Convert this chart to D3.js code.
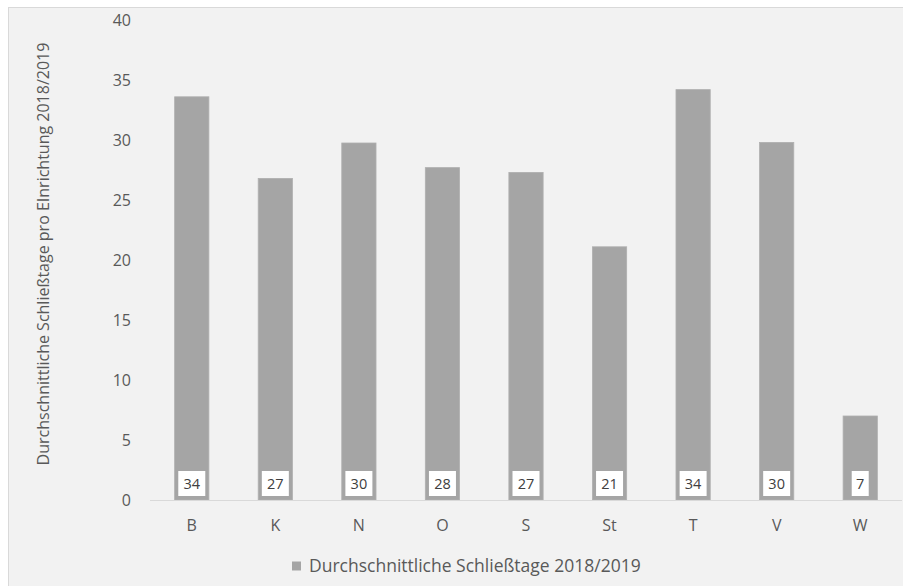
<!DOCTYPE html>
<html><head><meta charset="utf-8">
<script src="https://cdn.jsdelivr.net/npm/d3@7/dist/d3.min.js"></script>
<style>body{margin:0;background:#fff}svg{display:block}text{font-family:"Open Sans",sans-serif}</style>
</head><body><svg id="c" width="903" height="586"></svg>
<script>
const categories = ["B","K","N","O","S","St","T","V","W"];
const values = [33.6, 26.8, 29.75, 27.7, 27.3, 21.1, 34.2, 29.8, 7.0];
const labels = ["34","27","30","28","27","21","34","30","7"];
const yTicks = [0,5,10,15,20,25,30,35,40];
const yTitle = "Durchschnittliche Schließtage pro EInrichtung 2018/2019";
const legendText = "Durchschnittliche Schließtage 2018/2019";

const svg = d3.select("#c");
svg.append("rect").attr("x",8.5).attr("y",7.5).attr("width",900).attr("height",590)
  .attr("fill","#f2f2f2").attr("stroke","#d9d9d9");
const L=150,R=902,T=20,B=500;
const x = d3.scaleBand().domain(categories).range([L,R]).paddingInner(0.59).paddingOuter(0.295);
const y = d3.scaleLinear().domain([0,40]).range([B,T]);
const g = svg.append("g");
g.selectAll("rect.bar").data(values).join("rect").attr("class","bar")
  .attr("x",(d,i)=>x(categories[i])).attr("width",x.bandwidth())
  .attr("y",d=>y(d)).attr("height",d=>y(0)-y(d)).attr("fill","#a5a5a5").attr("stroke","#b0b0b0").attr("stroke-width",0.8);
const ax = svg.append("g").attr("transform",`translate(0,${B})`).call(d3.axisBottom(x).tickSize(0).tickPadding(20));
ax.select(".domain").attr("stroke","#d9d9d9").attr("d",`M${L},0.5H${R}`);
ax.selectAll("text").attr("font-size",16).attr("fill","#595959").style("font-family","Open Sans");
const ay = svg.append("g").attr("transform",`translate(${L},0)`).call(d3.axisLeft(y).tickValues(yTicks).tickSize(0).tickPadding(19));
ay.select(".domain").remove();
ay.selectAll("text").attr("font-size",16).attr("fill","#595959").style("font-family","Open Sans");
const lb = g.selectAll("g.lbl").data(labels).join("g").attr("class","lbl")
  .attr("transform",(d,i)=>`translate(${x(categories[i])+x.bandwidth()/2},${B-16.5})`);
lb.append("rect").attr("x",d=>-(d.length*5+3.5)).attr("width",d=>d.length*10+7).attr("y",-12.5).attr("height",25).attr("fill","#fff");
lb.append("text").text(d=>d).attr("text-anchor","middle").attr("dy","0.35em").attr("font-size",14.5).attr("fill","#404040");
svg.append("text").attr("transform",`translate(43,${(T+B)/2-6}) rotate(-90)`).attr("text-anchor","middle")
  .attr("dy","0.35em").attr("font-size",16).attr("fill","#595959").text(yTitle);
const lg = svg.append("g").attr("transform","translate(292,566)");
lg.append("rect").attr("x",0).attr("y",-4.5).attr("width",9).attr("height",9).attr("fill","#a5a5a5");
lg.append("text").attr("x",17).attr("dy","0.35em").attr("font-size",17.5).attr("fill","#595959").text(legendText);
</script></body></html>
